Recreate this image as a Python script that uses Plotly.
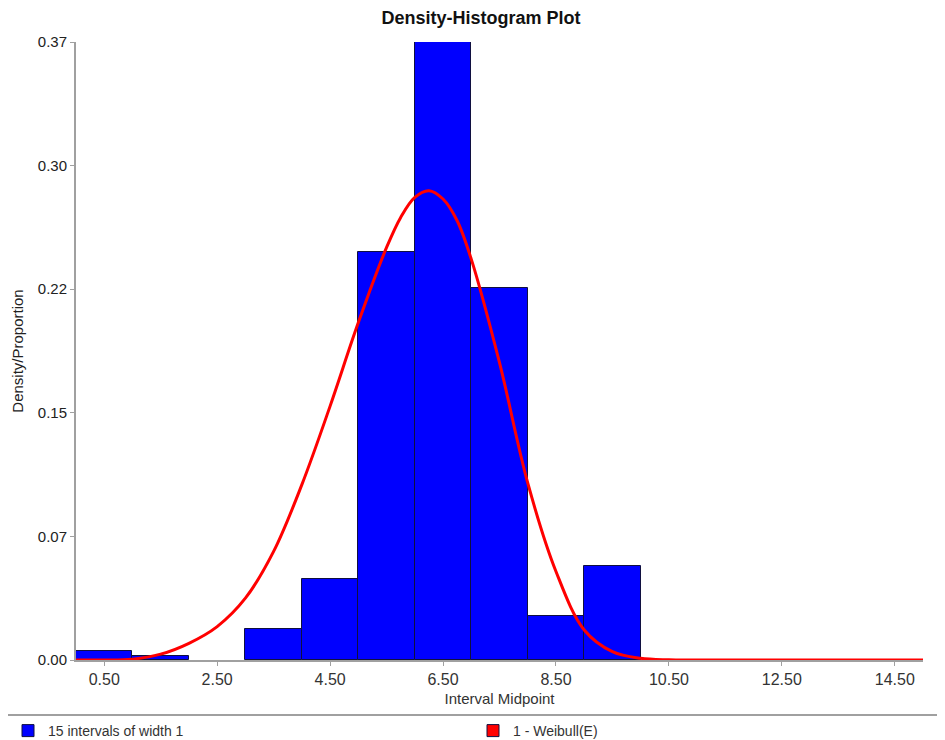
import plotly.graph_objects as go

# Histogram data: 15 intervals of width 1 (midpoints 0.5 .. 14.5)
midpoints = [0.5, 1.5, 2.5, 3.5, 4.5, 5.5, 6.5, 7.5, 8.5, 9.5, 10.5, 11.5, 12.5, 13.5, 14.5]
density = [0.0054, 0.0026, 0.0, 0.0186, 0.0485, 0.2443, 0.370, 0.2228, 0.0263, 0.0563,
           0.0, 0.0, 0.0, 0.0, 0.0]

# Fitted Weibull density curve
curve_x = [0.0, 0.5, 1.0, 1.5, 2.0, 2.5, 3.0, 3.5, 4.0, 4.5, 5.0, 5.5, 5.75, 6.0, 6.25, 6.5,
           6.75, 7.0, 7.5, 8.0, 8.5, 9.0, 9.5, 10.0, 10.5, 11.0, 12.0, 13.0, 14.0, 15.0]
curve_y = [0.0, 0.0, 0.0005, 0.0035, 0.010, 0.020, 0.037, 0.065, 0.105, 0.152, 0.202,
           0.247, 0.265, 0.277, 0.281, 0.276, 0.263, 0.240, 0.178, 0.106, 0.053, 0.018,
           0.005, 0.001, 0.0001, 0.0, 0.0, 0.0, 0.0, 0.0]

x_ticks = [0.5, 2.5, 4.5, 6.5, 8.5, 10.5, 12.5, 14.5]
y_ticks = [0.0, 0.074, 0.148, 0.222, 0.296, 0.37]
y_ticktext = ["0.00", "0.07", "0.15", "0.22", "0.30", "0.37"]

# page body adds an 8px offset; figure sized to fill the rest of the 945x740 window
W, H = 937, 732
OFF = 8
L, R, T, B = 76 - OFF, 22, 42 - OFF, 80
pw = W - L - R
ph = H - T - B

fig = go.Figure()
fig.add_trace(go.Bar(
    x=midpoints, y=density, width=1.0,
    marker=dict(color="#0000FF",
                line=dict(color="#101040", width=[1 if v > 0 else 0 for v in density])),
    name="15 intervals of width 1",
    legend="legend",
))
fig.add_trace(go.Scatter(
    x=curve_x, y=curve_y, mode="lines",
    line=dict(color="#FF0000", width=3, shape="spline", smoothing=1.0),
    showlegend=False, name="1 - Weibull(E)",
))
# legend proxy with square swatch
fig.add_trace(go.Bar(
    x=[None], y=[None],
    marker=dict(color="#FF0000", line=dict(color="#101040", width=1)),
    name="1 - Weibull(E)",
    legend="legend2",
))

font_family = "Liberation Sans, Arial, sans-serif"
leg_y = 1 - (715 - OFF) / H

fig.update_layout(
    width=W, height=H,
    margin=dict(l=L, r=R, t=T, b=B, autoexpand=False),
    paper_bgcolor="white", plot_bgcolor="white",
    bargap=0,
    font=dict(family=font_family, color="#333333", size=13),
    title=dict(text="<b>Density-Histogram Plot</b>", x=(481 - OFF) / W,
               xref="container", xanchor="center", y=1 - (18 - OFF) / H, yanchor="middle",
               font=dict(size=18, color="#111111", family=font_family)),
    xaxis=dict(
        range=[0, 15], tickvals=x_ticks, tickformat=".2f",
        showgrid=False, zeroline=False,
        showline=True, linecolor="#A0A0A0", linewidth=2,
        ticks="outside", ticklen=4, tickcolor="#A0A0A0",
        tickfont=dict(size=16, color="#333333"),
        title=dict(text="Interval Midpoint", font=dict(size=15, color="#333333"), standoff=6),
    ),
    yaxis=dict(
        range=[0, 0.37], tickvals=y_ticks, ticktext=y_ticktext,
        showgrid=False, zeroline=False,
        showline=True, linecolor="#A0A0A0", linewidth=2,
        ticks="outside", ticklen=4, tickcolor="#A0A0A0",
        tickfont=dict(size=15, color="#222222"),
        title=dict(text="Density/Proportion", font=dict(size=15, color="#222222"), standoff=11),
    ),
    legend=dict(
        orientation="h", xref="container", x=0, xanchor="left",
        yref="container", y=leg_y, yanchor="top",
        font=dict(size=14, color="#333333"),
        bgcolor="rgba(0,0,0,0)",
    ),
    legend2=dict(
        orientation="h", xref="container", x=(473 - OFF) / W, xanchor="left",
        yref="container", y=leg_y, yanchor="top",
        font=dict(size=14, color="#333333"),
        bgcolor="rgba(0,0,0,0)",
    ),
    shapes=[dict(
        type="line", xref="paper", yref="paper",
        x0=-L / pw, x1=(W - L) / pw,
        y0=(652 - (715 - OFF)) / ph,
        y1=(652 - (715 - OFF)) / ph,
        line=dict(color="#A0A0A0", width=2),
    )],
)

fig.write_html("out.html")
